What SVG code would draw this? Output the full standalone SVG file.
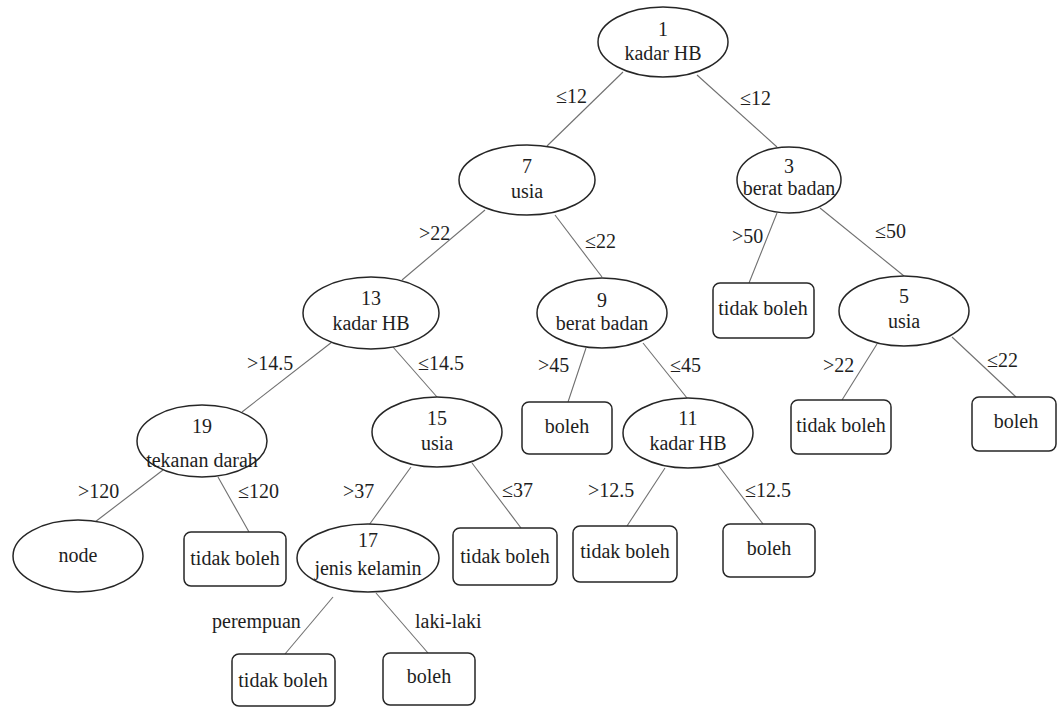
<svg xmlns="http://www.w3.org/2000/svg" width="1057" height="707" viewBox="0 0 1057 707" font-family="Liberation Serif, Times New Roman, Times, serif" font-size="20">
  <style>
    .split { fill: #ffffff; stroke: #262626; stroke-width: 1.5; }
    .leaf { fill: #ffffff; stroke: #262626; stroke-width: 1.5; }
    text { fill: #1e1e1e; }
    .c { text-anchor: middle; }
    .edge { stroke: #707070; stroke-width: 1.1; fill: none; }
  </style>
  <rect width="1057" height="707" fill="#ffffff"/>

  <!-- branches -->
  <g id="connectors">
    <line class="edge" x1="623" y1="72" x2="547" y2="146"/>
    <line class="edge" x1="697" y1="75" x2="777" y2="147"/>
    <line class="edge" x1="485" y1="210" x2="402" y2="280"/>
    <line class="edge" x1="555" y1="215" x2="602" y2="277"/>
    <line class="edge" x1="777" y1="213" x2="749" y2="283"/>
    <line class="edge" x1="820" y1="208" x2="904" y2="276"/>
    <line class="edge" x1="332" y1="342" x2="242" y2="412"/>
    <line class="edge" x1="393" y1="347" x2="437" y2="397"/>
    <line class="edge" x1="586" y1="348" x2="568" y2="402"/>
    <line class="edge" x1="643" y1="343" x2="687" y2="398"/>
    <line class="edge" x1="877" y1="344" x2="842" y2="400"/>
    <line class="edge" x1="952" y1="337" x2="1016" y2="397"/>
    <line class="edge" x1="163" y1="470" x2="95" y2="522"/>
    <line class="edge" x1="218" y1="477" x2="249" y2="532"/>
    <line class="edge" x1="411" y1="467" x2="369" y2="525"/>
    <line class="edge" x1="472" y1="463" x2="521" y2="528"/>
    <line class="edge" x1="665" y1="468" x2="627" y2="526"/>
    <line class="edge" x1="718" y1="465" x2="763" y2="524"/>
    <line class="edge" x1="333" y1="597" x2="285" y2="654"/>
    <line class="edge" x1="376" y1="593" x2="428" y2="653"/>
  </g>

  <!-- branch conditions -->
  <g id="edge-labels">
    <text x="556" y="103">≤12</text>
    <text x="740" y="105">≤12</text>
    <text x="419" y="240">&gt;22</text>
    <text x="585" y="248">≤22</text>
    <text x="732" y="243">&gt;50</text>
    <text x="875" y="238">≤50</text>
    <text x="247" y="370">&gt;14.5</text>
    <text x="418" y="370">≤14.5</text>
    <text x="538" y="372">&gt;45</text>
    <text x="670" y="372">≤45</text>
    <text x="823" y="372">&gt;22</text>
    <text x="987" y="367">≤22</text>
    <text x="78" y="498">&gt;120</text>
    <text x="238" y="498">≤120</text>
    <text x="343" y="498">&gt;37</text>
    <text x="502" y="497">≤37</text>
    <text x="588" y="497">&gt;12.5</text>
    <text x="745" y="497">≤12.5</text>
    <text x="212" y="628">perempuan</text>
    <text x="415" y="628">laki-laki</text>
  </g>

  <!-- split nodes -->
  <g id="n1">
    <ellipse class="split" cx="663" cy="42" rx="65" ry="35"/>
    <text class="c" x="663" y="36">1</text>
    <text class="c" x="663" y="60">kadar HB</text>
  </g>
  <g id="n7">
    <ellipse class="split" cx="527" cy="180" rx="68" ry="35"/>
    <text class="c" x="527" y="173">7</text>
    <text class="c" x="527" y="198">usia</text>
  </g>
  <g id="n3">
    <ellipse class="split" cx="789" cy="180" rx="52" ry="33"/>
    <text class="c" x="789" y="173">3</text>
    <text class="c" x="789" y="195">berat badan</text>
  </g>
  <g id="n13">
    <ellipse class="split" cx="371" cy="313" rx="68" ry="36"/>
    <text class="c" x="371" y="305">13</text>
    <text class="c" x="371" y="330">kadar HB</text>
  </g>
  <g id="n9">
    <ellipse class="split" cx="602" cy="313" rx="65" ry="35"/>
    <text class="c" x="602" y="307">9</text>
    <text class="c" x="602" y="330">berat badan</text>
  </g>
  <g id="n5">
    <ellipse class="split" cx="904" cy="311" rx="65" ry="35"/>
    <text class="c" x="904" y="303">5</text>
    <text class="c" x="904" y="328">usia</text>
  </g>
  <g id="n19">
    <ellipse class="split" cx="202" cy="441" rx="65" ry="36"/>
    <text class="c" x="202" y="433">19</text>
    <text class="c" x="202" y="467">tekanan darah</text>
  </g>
  <g id="n15">
    <ellipse class="split" cx="437" cy="432" rx="65" ry="35"/>
    <text class="c" x="437" y="425">15</text>
    <text class="c" x="437" y="450">usia</text>
  </g>
  <g id="n11">
    <ellipse class="split" cx="688" cy="433" rx="65" ry="35"/>
    <text class="c" x="688" y="425">11</text>
    <text class="c" x="688" y="450">kadar HB</text>
  </g>
  <g id="n17">
    <ellipse class="split" cx="368" cy="558" rx="71" ry="34"/>
    <text class="c" x="368" y="547">17</text>
    <text class="c" x="368" y="575">jenis kelamin</text>
  </g>
  <g id="node-open">
    <ellipse class="split" cx="78" cy="556" rx="65" ry="36"/>
    <text class="c" x="78" y="562">node</text>
  </g>

  <!-- leaves -->
  <g id="leaf-3">
    <rect class="leaf" x="713" y="283" width="101" height="55" rx="7"/>
    <text class="c" x="763" y="315">tidak boleh</text>
  </g>
  <g id="leaf-9">
    <rect class="leaf" x="522" y="402" width="90" height="52" rx="7"/>
    <text class="c" x="567" y="433">boleh</text>
  </g>
  <g id="leaf-5a">
    <rect class="leaf" x="791" y="400" width="100" height="54" rx="7"/>
    <text class="c" x="841" y="432">tidak boleh</text>
  </g>
  <g id="leaf-5b">
    <rect class="leaf" x="972" y="397" width="84" height="54" rx="7"/>
    <text class="c" x="1016" y="428">boleh</text>
  </g>
  <g id="leaf-19">
    <rect class="leaf" x="184" y="532" width="102" height="54" rx="7"/>
    <text class="c" x="235" y="565">tidak boleh</text>
  </g>
  <g id="leaf-15">
    <rect class="leaf" x="453" y="528" width="104" height="57" rx="7"/>
    <text class="c" x="505" y="563">tidak boleh</text>
  </g>
  <g id="leaf-11a">
    <rect class="leaf" x="573" y="526" width="104" height="56" rx="7"/>
    <text class="c" x="625" y="558">tidak boleh</text>
  </g>
  <g id="leaf-11b">
    <rect class="leaf" x="723" y="524" width="92" height="53" rx="7"/>
    <text class="c" x="769" y="555">boleh</text>
  </g>
  <g id="leaf-17a">
    <rect class="leaf" x="232" y="654" width="103" height="52" rx="7"/>
    <text class="c" x="283" y="687">tidak boleh</text>
  </g>
  <g id="leaf-17b">
    <rect class="leaf" x="383" y="653" width="92" height="52" rx="7"/>
    <text class="c" x="429" y="683">boleh</text>
  </g>
</svg>
